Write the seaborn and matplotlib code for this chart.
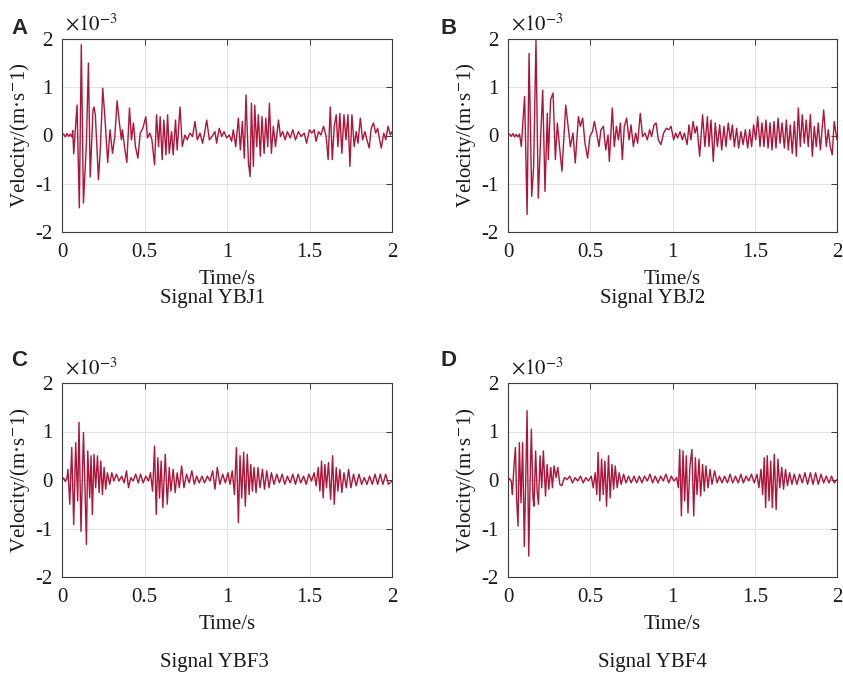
import numpy as np
import pandas as pd
import matplotlib
matplotlib.use("Agg")
import matplotlib.pyplot as plt
import seaborn as sns
from matplotlib.ticker import FuncFormatter

# values, velocity in units of 1e-3 m/s
time_ybj1 = [0, .01, .02, .03, .04, .05, .06, .065, .071, .091,
             .105, .117, .130, .142, .148, .160, .171, .188, .194, .202,
             .221, .233, .247, .261, .277, .291, .306, .320, .334, .346,
             .360, .366, .379, .393, .409, .421, .433, .445, .460, .474,
             .490, .508, .518, .532, .545, .561, .573, .585, .595, .607,
             .617, .630, .640, .650, .664, .674, .688, .698, .715, .729,
             .745, .759, .775, .791, .806, .820, .836, .852, .864, .877,
             .893, .909, .927, .937, .953, .968, .982, .998, 1.014, 1.028,
             1.038, 1.053, 1.069, 1.081, 1.093, 1.105, 1.115, 1.130, 1.140, 1.148,
             1.160, 1.168, 1.180, 1.190, 1.202, 1.212, 1.225, 1.235, 1.247, 1.257,
             1.269, 1.281, 1.294, 1.312, 1.324, 1.338, 1.352, 1.366, 1.383, 1.399,
             1.415, 1.433, 1.449, 1.468, 1.482, 1.500, 1.514, 1.528, 1.540, 1.555,
             1.569, 1.585, 1.601, 1.613, 1.626, 1.638, 1.650, 1.662, 1.672, 1.684,
             1.696, 1.709, 1.721, 1.733, 1.745, 1.757, 1.771, 1.783, 1.794, 1.808,
             1.822, 1.836, 1.848, 1.862, 1.874, 1.888, 1.901, 1.913, 1.925, 1.935,
             1.950, 1.962, 1.976, 1.990, 2.0]
vel_ybj1 = [0, .03, -.03, .04, -.02, .03, -.03, .10, -.38, .63,
            -1.50, 1.88, -1.40, -.57, -.16, 1.50, -.86, .53, .59, .43,
            -.92, -.23, .98, .32, -.56, .12, -.37, -.02, .72, .32,
            -.09, .12, -.23, -.56, .57, -.09, .26, -.23, -.47, .05,
            .15, .39, -.05, .05, -.09, -.61, .43, -.23, .39, -.50,
            .32, -.40, .43, -.37, .08, -.40, .32, -.30, .59, -.23,
            .01, -.09, .05, -.02, .29, -.09, .05, -.16, .05, .32,
            -.09, -.02, .08, -.16, .15, -.02, .08, -.05, .01, -.12,
            .12, -.23, .36, -.30, .29, -.47, .84, -.57, -.85, .67,
            -.64, .63, -.23, .43, -.43, .39, -.37, .36, -.23, .67,
            -.37, .19, -.23, .32, -.02, .08, -.09, .08, -.05, .12,
            -.09, .08, -.02, .05, -.16, .12, .05, .12, -.12, .08,
            .01, .19, -.02, -.50, .59, -.50, .19, .43, -.23, .46,
            -.37, .43, -.09, .43, -.64, .43, -.23, .08, -.16, .36,
            -.09, .08, -.09, -.26, .15, .26, .05, .15, -.09, -.26,
            .05, -.09, .19, .01, .08]

time_ybj2 = [0, .01, .02, .03, .04, .05, .06, .07, .081, .101,
             .116, .128, .144, .156, .170, .184, .197, .211, .225, .239,
             .245, .259, .274, .288, .300, .314, .328, .351, .365, .379,
             .395, .409, .428, .440, .454, .468, .484, .498, .513, .525,
             .539, .553, .565, .580, .594, .608, .616, .634, .646, .659,
             .671, .683, .695, .707, .721, .736, .748, .762, .776, .788,
             .804, .818, .833, .847, .861, .873, .888, .900, .914, .930,
             .946, .962, .977, .991, 1.007, 1.019, 1.031, 1.046, 1.060, 1.072,
             1.089, 1.100, 1.112, 1.125, 1.137, 1.149, 1.165, 1.183, 1.197, 1.212,
             1.222, 1.234, 1.248, 1.260, 1.273, 1.287, 1.299, 1.313, 1.325, 1.339,
             1.352, 1.364, 1.376, 1.390, 1.402, 1.416, 1.429, 1.443, 1.457, 1.469,
             1.481, 1.493, 1.506, 1.518, 1.532, 1.544, 1.556, 1.568, 1.581, 1.593,
             1.605, 1.617, 1.629, 1.642, 1.654, 1.666, 1.680, 1.692, 1.704, 1.716,
             1.728, 1.741, 1.753, 1.765, 1.777, 1.789, 1.801, 1.813, 1.825, 1.838,
             1.850, 1.862, 1.874, 1.886, 1.899, 1.919, 1.935, 1.947, 1.959, 1.971,
             1.983, 2.0]
vel_ybj2 = [0, .03, -.02, .04, -.03, .02, -.03, .03, -.23, .81,
            -1.64, 1.70, -1.26, -.64, 1.97, -1.30, -.16, .94, -1.16, .46,
            -.50, .74, .88, -.50, .26, -.26, -.74, .63, .19, -.23,
            .05, -.57, .39, .19, .36, -.16, -.47, -.02, .08, .29,
            .05, -.23, .12, .19, -.30, .01, -.54, .57, -.23, .19,
            -.09, .26, -.50, .19, .36, -.09, .22, -.23, .05, -.16,
            .46, -.02, .05, -.09, .12, -.02, .22, .26, -.09, -.19,
            .05, .15, .12, .19, -.09, .05, -.05, .08, -.09, .05,
            -.19, .22, -.09, .29, .05, .19, -.43, .43, -.23, .39,
            -.23, .32, -.54, .26, -.23, .22, -.30, .19, -.23, .26,
            -.09, .22, -.23, .15, -.26, .08, -.19, .12, -.26, .12,
            -.23, .22, -.09, .39, -.23, .26, -.23, .32, -.26, .26,
            -.30, .29, -.26, .36, -.16, .26, -.26, .32, -.30, .22,
            -.37, .29, -.43, .57, -.23, .43, -.16, .32, -.23, .43,
            -.43, .19, -.23, .26, -.30, .53, -.23, .12, -.23, -.40,
            .29, -.09]

time_ybf3 = [0, .01, .02, .03, .036, .047, .059, .071, .083, .095,
             .103, .115, .130, .140, .148, .156, .168, .176, .184, .194,
             .204, .215, .225, .235, .245, .255, .265, .275, .289, .302,
             .314, .330, .346, .362, .377, .391, .403, .417, .431, .447,
             .462, .476, .492, .508, .524, .536, .549, .561, .571, .581,
             .591, .601, .611, .626, .638, .650, .660, .674, .686, .698,
             .711, .725, .739, .755, .771, .787, .802, .816, .832, .848,
             .864, .881, .897, .913, .927, .941, .957, .974, .990, 1.006,
             1.018, 1.032, 1.045, 1.057, 1.069, 1.079, 1.089, 1.101, 1.111, 1.123,
             1.134, 1.144, 1.154, 1.164, 1.176, 1.188, 1.200, 1.215, 1.227, 1.241,
             1.255, 1.269, 1.285, 1.302, 1.318, 1.334, 1.350, 1.366, 1.383, 1.399,
             1.415, 1.431, 1.447, 1.464, 1.480, 1.496, 1.512, 1.528, 1.540, 1.553,
             1.563, 1.573, 1.583, 1.593, 1.603, 1.615, 1.628, 1.640, 1.650, 1.662,
             1.672, 1.684, 1.696, 1.709, 1.723, 1.737, 1.751, 1.767, 1.783, 1.800,
             1.816, 1.832, 1.848, 1.864, 1.881, 1.897, 1.913, 1.929, 1.945, 1.962,
             1.978, 2.0]
vel_ybf3 = [0, .04, -.03, .03, .22, -.50, .67, -.92, .77, -.43,
            1.19, -1.06, .98, -.23, -1.33, .60, -.37, .50, -.71, .53,
            -.16, .50, -.26, .39, -.30, .26, -.19, .15, -.09, .15,
            -.02, .12, -.02, .08, -.06, .19, -.16, .05, -.02, .12,
            -.06, .12, -.06, .08, -.02, .15, -.23, .70, -.71, .46,
            -.37, .39, -.57, .53, -.50, .26, -.23, .22, -.26, .15,
            -.16, .29, -.16, .12, -.06, .19, -.09, .08, -.06, .08,
            -.06, .08, -.02, .19, -.19, .26, -.09, .12, -.06, .15,
            -.09, .19, -.30, .67, -.88, .50, -.37, .57, -.54, .53,
            -.30, .32, -.23, .26, -.26, .26, -.16, .22, -.19, .19,
            -.16, .15, -.09, .12, -.06, .12, -.09, .08, -.06, .12,
            -.09, .12, -.06, .08, -.09, .12, -.02, .15, -.12, .26,
            -.23, .39, -.37, .32, -.16, .36, -.40, .50, -.50, .26,
            -.23, .22, -.26, .15, -.16, .22, -.16, .12, -.12, .12,
            -.09, .05, -.09, .08, -.09, .12, -.09, .12, -.09, .12,
            -.09, -.02]

time_ybf4 = [0, .01, .02, .026, .037, .045, .053, .061, .069, .079,
             .089, .099, .108, .116, .126, .134, .142, .152, .158, .168,
             .177, .185, .195, .205, .215, .228, .238, .248, .260, .270,
             .280, .292, .303, .315, .327, .343, .359, .376, .392, .408,
             .424, .441, .457, .473, .489, .506, .518, .530, .540, .548,
             .558, .569, .579, .589, .599, .611, .621, .632, .642, .652,
             .664, .676, .688, .703, .717, .733, .749, .766, .782, .798,
             .814, .830, .847, .863, .879, .895, .912, .928, .944, .960,
             .977, .993, 1.009, 1.025, 1.036, 1.044, 1.054, 1.064, 1.074, 1.084,
             1.094, 1.106, 1.118, 1.129, 1.139, 1.149, 1.161, 1.171, 1.183, 1.193,
             1.203, 1.216, 1.228, 1.240, 1.256, 1.271, 1.285, 1.301, 1.317, 1.334,
             1.350, 1.366, 1.383, 1.399, 1.416, 1.431, 1.447, 1.464, 1.480, 1.497,
             1.513, 1.525, 1.538, 1.548, 1.558, 1.566, 1.576, 1.587, 1.597, 1.607,
             1.619, 1.630, 1.641, 1.652, 1.664, 1.675, 1.687, 1.699, 1.712, 1.726,
             1.740, 1.756, 1.773, 1.789, 1.805, 1.821, 1.838, 1.854, 1.870, 1.886,
             1.903, 1.919, 1.935, 1.951, 1.967, 1.983, 2.0]
vel_ybf4 = [0, .03, -.03, -.30, .32, .67, -.43, -.95, .77, -.47,
            .77, -1.37, .05, 1.43, -1.57, -.09, 1.05, -.37, -.54, .60,
            -.23, -.50, .50, -.16, .60, -.33, .32, -.19, .26, -.16,
            .29, .05, .26, -.09, -.12, .05, .01, .08, -.06, .05,
            -.02, .08, -.06, .05, -.02, .08, -.16, .15, -.30, .57,
            -.43, .43, -.30, .39, -.54, .50, -.37, .32, -.19, .29,
            -.16, .15, -.09, .12, -.06, .08, -.06, .08, -.06, .08,
            -.06, .08, -.02, .12, -.06, .08, -.06, .08, -.02, .12,
            -.06, .08, -.02, .05, -.16, .63, -.74, .60, -.43, .50,
            -.68, .29, .63, -.74, .46, -.30, .43, -.33, .32, -.23,
            .29, -.16, .22, -.09, .19, -.06, .08, -.06, .08, -.06,
            .12, -.06, .08, -.06, .12, -.06, .08, -.02, .12, -.06,
            .12, -.16, .22, -.30, .46, -.57, .50, -.43, .39, -.57,
            .53, -.61, .43, -.16, .26, -.19, .22, -.12, .15, -.09,
            .12, -.09, .12, -.06, .15, -.09, .15, -.09, .15, -.09,
            .12, -.06, .08, -.06, .08, -.06, .01]

signal_names = ["Signal YBJ1", "Signal YBJ2", "Signal YBF3", "Signal YBF4"]
panel_letters = ["A", "B", "C", "D"]
x_ticks = [0, 0.5, 1, 1.5, 2]
x_tick_labels = ["0", "0.5", "1", "1.5", "2"]
y_ticks = [-2e-3, -1e-3, 0, 1e-3, 2e-3]

signals = [(time_ybj1, vel_ybj1), (time_ybj2, vel_ybj2),
           (time_ybf3, vel_ybf3), (time_ybf4, vel_ybf4)]

LINE = "#AE1439"
EDGE = "#3a3a3a"

sns.set_style("white")
plt.rcParams["font.family"] = ["Liberation Serif", "DejaVu Serif"]
plt.rcParams["mathtext.fontset"] = "stix"
plt.rcParams["axes.unicode_minus"] = False

fig = plt.figure(figsize=(8.43, 6.80), dpi=100)
W, H = 843, 680

# axes boxes in pixels: left, top, right, bottom
boxes = [(62, 39, 392, 232), (508, 39, 837, 232),
         (62, 383, 392, 577), (508, 383, 837, 577)]
title_pos = [(213, 298), (653, 298), (214, 663), (652, 663)]
letter_pos = [(11, 28), (441, 28), (11, 361), (441, 361)]

for i, (t, v) in enumerate(signals):
    l, tp, r, b = boxes[i]
    ax = fig.add_axes([l / W, 1 - b / H, (r - l) / W, (b - tp) / H])
    df = pd.DataFrame({"Time": t, "Velocity": np.array(v) * 1e-3})
    sns.lineplot(data=df, x="Time", y="Velocity", ax=ax, color=LINE,
                 linewidth=1.0, estimator=None, sort=False)
    ax.set_xlim(0, 2)
    ax.set_ylim(-2e-3, 2e-3)
    ax.set_xticks(x_ticks)
    ax.set_xticklabels(x_tick_labels)
    ax.set_yticks(y_ticks)
    ax.yaxis.set_major_formatter(FuncFormatter(lambda y, p: f"{y * 1e3:g}"))
    ax.grid(True, color="#e3e3e3", linewidth=0.8)
    ax.tick_params(direction="in", top=True, right=True, length=4, width=0.7,
                   color=EDGE, labelsize=15, labelcolor="#1a1a1a")
    ax.tick_params(axis="x", pad=8)
    ax.tick_params(axis="y", pad=7)
    for s in ax.spines.values():
        s.set_color(EDGE)
        s.set_linewidth(0.8)
    ax.set_xlabel("Time/s", fontsize=15, labelpad=6, color="#1a1a1a")
    ax.set_ylabel("Velocity/(m·s$^{-}$1)", fontsize=15, labelpad=2,
                  color="#1a1a1a")
    ax.text(0.01, 1.02, r"$\times10^{-3}$", transform=ax.transAxes,
            fontsize=15, ha="left", va="bottom", color="#1a1a1a")
    fig.text(title_pos[i][0] / W, 1 - title_pos[i][1] / H, signal_names[i],
             fontsize=15, ha="center", va="center", color="#1a1a1a")
    fig.text(letter_pos[i][0] / W, 1 - letter_pos[i][1] / H, panel_letters[i],
             fontsize=16, fontweight="bold", family="Liberation Sans",
             ha="left", va="center")

fig.savefig("out.png", dpi=100)
